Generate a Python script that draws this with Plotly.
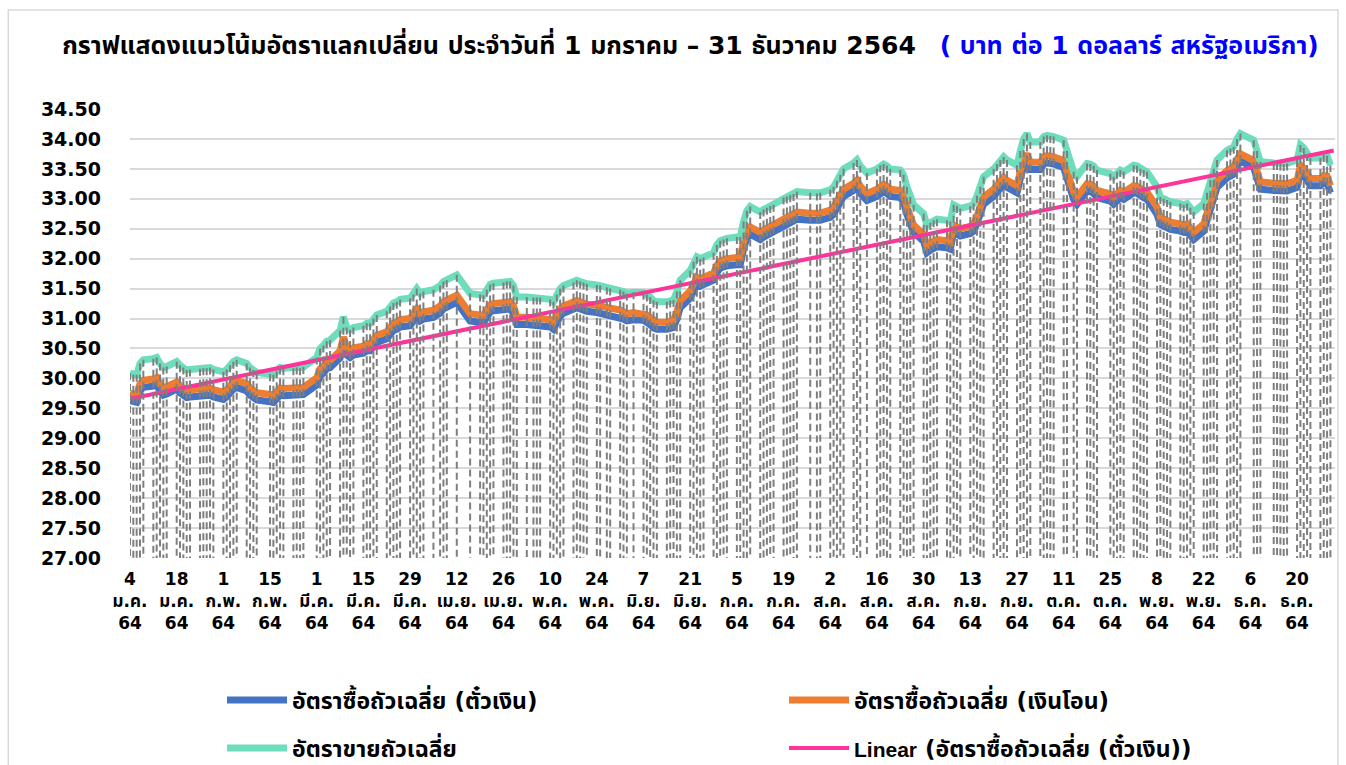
import numpy as np
import pandas as pd
import plotly.graph_objects as go

# ---- data: weekday rows (Mon..Fri), None = bank holiday ----
SELL = [
    30.09, 30.06, 30.06, 30.25, 30.31,
    30.33, 30.35, 30.25, 30.18, 30.20,
    30.28, 30.22, 30.18, 30.14, 30.15,
    30.16, 30.17, 30.17, 30.18, 30.15,
    30.11, 30.15, 30.22, 30.28, 30.31,
    30.25, 30.18, 30.14, 30.10, None,
    30.07, 30.06, 30.12, 30.18, 30.17,
    30.17, 30.18, 30.17, 30.19, None,
    30.35, 30.50, 30.55, 30.62, 30.64,
    30.80, 31.03, 30.85, 30.81, 30.85,
    30.88, 30.92, 30.92, 31.00, 31.06,
    31.12, 31.20, 31.26, 31.28, 31.32,
    31.34, 31.40, 31.50, 31.42, 31.45,
    31.48, None, 31.55, 31.62, 31.64,
    31.73, None, None, None, 31.42,
    31.40, 31.39, 31.48, 31.57, 31.59,
    31.60, 31.62, 31.62, 31.55, 31.36,
    31.36, None, 31.35, 31.35, 31.35,
    31.32, 31.28, 31.40, 31.50, 31.55,
    31.60, 31.64, 31.62, 31.60, 31.58,
    31.56, 31.55, None, 31.52, 31.50,
    31.48, 31.45, 31.42, None, 31.44,
    31.43, 31.40, 31.36, 31.30, 31.28,
    31.28, 31.30, 31.31, 31.45, 31.64,
    31.80, 31.95, 32.03, 32.00, 32.02,
    32.10, 32.23, 32.30, 32.32, 32.34,
    32.36, 32.36, 32.62, 32.80, 32.87,
    32.78, 32.82, 32.85, 32.88, 32.90,
    33.02, 33.04, 33.06, 33.08, 33.12,
    None, 33.10, None, 33.09, 33.10,
    33.15, 33.20, 33.30, 33.40, 33.50,
    33.60, 33.65, 33.55, None, 33.43,
    33.50, 33.56, 33.58, 33.55, 33.50,
    33.48, 33.40, 33.20, 33.03, 32.90,
    32.75, 32.56, 32.60, 32.64, 32.66,
    32.64, 32.62, 32.90, 32.88, 32.84,
    32.88, 32.92, 33.05, 33.20, 33.37,
    33.50, 33.58, 33.65, 33.70, 33.65,
    33.56, 33.80, 34.00, 34.09, 33.95,
    33.95, 34.04, 34.06, 34.05, 34.04,
    33.98, 33.80, None, 33.45, 33.37,
    33.59, 33.58, 33.55, 33.48, None,
    33.42, 33.37, 33.45, 33.48, 33.45,
    33.56, 33.55, 33.50, 33.48, 33.45,
    33.20, 33.03, 33.00, 32.98, 32.95,
    32.92, 32.90, 32.92, 32.85, 32.78,
    32.92, 33.10, 33.31, 33.50, 33.65,
    33.81, 33.84, 33.87, 34.00, 34.09,
    None, 33.98, 33.80, 33.62, None,
    33.60, 33.60, 33.59, 33.58, 33.59,
    33.65, 33.90, 33.85, 33.75, 33.68,
    33.68, 33.73, 33.72, 33.56, None,
]

BUY_TT = [
    29.75, 29.72, 29.72, 29.91, 29.97,
    29.99, 30.01, 29.91, 29.84, 29.86,
    29.94, 29.88, 29.84, 29.80, 29.81,
    29.82, 29.83, 29.83, 29.84, 29.81,
    29.77, 29.81, 29.88, 29.94, 29.97,
    29.91, 29.84, 29.80, 29.76, None,
    29.73, 29.72, 29.78, 29.84, 29.83,
    29.83, 29.84, 29.83, 29.85, None,
    30.01, 30.16, 30.21, 30.28, 30.30,
    30.46, 30.69, 30.51, 30.47, 30.51,
    30.54, 30.58, 30.58, 30.66, 30.72,
    30.78, 30.86, 30.92, 30.94, 30.98,
    31.00, 31.06, 31.16, 31.08, 31.11,
    31.14, None, 31.21, 31.28, 31.30,
    31.39, None, None, None, 31.08,
    31.06, 31.05, 31.14, 31.23, 31.25,
    31.26, 31.28, 31.28, 31.21, 31.02,
    31.02, None, 31.01, 31.01, 31.01,
    30.98, 30.94, 31.06, 31.16, 31.21,
    31.26, 31.30, 31.28, 31.26, 31.24,
    31.22, 31.21, None, 31.18, 31.16,
    31.14, 31.11, 31.08, None, 31.10,
    31.09, 31.06, 31.02, 30.96, 30.94,
    30.94, 30.96, 30.97, 31.11, 31.30,
    31.46, 31.61, 31.69, 31.66, 31.68,
    31.76, 31.89, 31.96, 31.98, 32.00,
    32.02, 32.02, 32.28, 32.46, 32.53,
    32.44, 32.48, 32.51, 32.54, 32.56,
    32.68, 32.70, 32.72, 32.74, 32.78,
    None, 32.76, None, 32.75, 32.76,
    32.81, 32.86, 32.96, 33.06, 33.16,
    33.26, 33.31, 33.21, None, 33.09,
    33.16, 33.22, 33.24, 33.21, 33.16,
    33.14, 33.06, 32.86, 32.69, 32.56,
    32.41, 32.22, 32.26, 32.30, 32.32,
    32.30, 32.28, 32.56, 32.54, 32.50,
    32.54, 32.58, 32.71, 32.86, 33.03,
    33.16, 33.24, 33.31, 33.36, 33.31,
    33.22, 33.46, 33.66, 33.75, 33.61,
    33.61, 33.70, 33.72, 33.71, 33.70,
    33.64, 33.46, None, 33.11, 33.03,
    33.25, 33.24, 33.21, 33.14, None,
    33.08, 33.03, 33.11, 33.14, 33.11,
    33.22, 33.21, 33.16, 33.14, 33.11,
    32.86, 32.69, 32.66, 32.64, 32.61,
    32.58, 32.56, 32.58, 32.51, 32.44,
    32.58, 32.76, 32.97, 33.16, 33.31,
    33.47, 33.50, 33.53, 33.66, 33.75,
    None, 33.64, 33.46, 33.28, None,
    33.26, 33.26, 33.25, 33.24, 33.25,
    33.31, 33.56, 33.51, 33.41, 33.34,
    33.34, 33.39, 33.38, 33.22, None,
]

BUY_SIGHT = [
    29.63, 29.60, 29.60, 29.79, 29.85,
    29.87, 29.89, 29.79, 29.72, 29.74,
    29.82, 29.76, 29.72, 29.68, 29.69,
    29.70, 29.71, 29.71, 29.72, 29.69,
    29.65, 29.69, 29.76, 29.82, 29.85,
    29.79, 29.72, 29.68, 29.64, None,
    29.61, 29.60, 29.66, 29.72, 29.71,
    29.71, 29.72, 29.71, 29.73, None,
    29.89, 30.04, 30.09, 30.16, 30.18,
    30.34, 30.57, 30.39, 30.35, 30.39,
    30.42, 30.46, 30.46, 30.54, 30.60,
    30.66, 30.74, 30.80, 30.82, 30.86,
    30.88, 30.94, 31.04, 30.96, 30.99,
    31.02, None, 31.09, 31.16, 31.18,
    31.27, None, None, None, 30.96,
    30.94, 30.93, 31.02, 31.11, 31.13,
    31.14, 31.16, 31.16, 31.09, 30.90,
    30.90, None, 30.89, 30.89, 30.89,
    30.86, 30.82, 30.94, 31.04, 31.09,
    31.14, 31.18, 31.16, 31.14, 31.12,
    31.10, 31.09, None, 31.06, 31.04,
    31.02, 30.99, 30.96, None, 30.98,
    30.97, 30.94, 30.90, 30.84, 30.82,
    30.82, 30.84, 30.85, 30.99, 31.18,
    31.34, 31.49, 31.57, 31.54, 31.56,
    31.64, 31.77, 31.84, 31.86, 31.88,
    31.90, 31.90, 32.16, 32.34, 32.41,
    32.32, 32.36, 32.39, 32.42, 32.44,
    32.56, 32.58, 32.60, 32.62, 32.66,
    None, 32.64, None, 32.63, 32.64,
    32.69, 32.74, 32.84, 32.94, 33.04,
    33.14, 33.19, 33.09, None, 32.97,
    33.04, 33.10, 33.12, 33.09, 33.04,
    33.02, 32.94, 32.74, 32.57, 32.44,
    32.29, 32.10, 32.14, 32.18, 32.20,
    32.18, 32.16, 32.44, 32.42, 32.38,
    32.42, 32.46, 32.59, 32.74, 32.91,
    33.04, 33.12, 33.19, 33.24, 33.19,
    33.10, 33.34, 33.54, 33.63, 33.49,
    33.49, 33.58, 33.60, 33.59, 33.58,
    33.52, 33.34, None, 32.99, 32.91,
    33.13, 33.12, 33.09, 33.02, None,
    32.96, 32.91, 32.99, 33.02, 32.99,
    33.10, 33.09, 33.04, 33.02, 32.99,
    32.74, 32.57, 32.54, 32.52, 32.49,
    32.46, 32.44, 32.46, 32.39, 32.32,
    32.46, 32.64, 32.85, 33.04, 33.19,
    33.35, 33.38, 33.41, 33.54, 33.63,
    None, 33.52, 33.34, 33.16, None,
    33.14, 33.14, 33.13, 33.12, 33.13,
    33.19, 33.44, 33.39, 33.29, 33.22,
    33.22, 33.27, 33.26, 33.10, None,
]

TICK_DAY = [4, 18, 1, 15, 1, 15, 29, 12, 26, 10, 24, 7, 21, 5, 19, 2, 16, 30, 13, 27, 11, 25, 8, 22, 6, 20]
TICK_MONTH_NUM = [1, 1, 2, 2, 3, 3, 3, 4, 4, 5, 5, 6, 6, 7, 7, 8, 8, 8, 9, 9, 10, 10, 11, 11, 12, 12]
TICK_MONTH = ["ม.ค.", "ม.ค.", "ก.พ.", "ก.พ.", "มี.ค.", "มี.ค.", "มี.ค.", "เม.ย.", "เม.ย.", "พ.ค.", "พ.ค.",
              "มิ.ย.", "มิ.ย.", "ก.ค.", "ก.ค.", "ส.ค.", "ส.ค.", "ส.ค.", "ก.ย.", "ก.ย.", "ต.ค.", "ต.ค.",
              "พ.ย.", "พ.ย.", "ธ.ค.", "ธ.ค."]
YEAR_LABEL = "64"

NAMES = ["อัตราซื้อถัวเฉลี่ย (ตั๋วเงิน)", "อัตราซื้อถัวเฉลี่ย (เงินโอน)", "อัตราขายถัวเฉลี่ย",
         "Linear (อัตราซื้อถัวเฉลี่ย (ตั๋วเงิน))"]

dates = pd.bdate_range("2021-01-04", "2021-12-31")
assert len(dates) == len(SELL) == len(BUY_TT) == len(BUY_SIGHT)

FONT = "'DejaVu Sans', Tahoma, 'Noto Sans Thai', sans-serif"
YMIN, YMAX = 27.0, 34.5

fig = go.Figure()

fig.add_trace(go.Scatter(x=dates, y=BUY_SIGHT, mode="lines", name=f"<b>{NAMES[0]}</b>", connectgaps=True,
                         line=dict(color="#4472C4", width=7), legend="legend"))
fig.add_trace(go.Scatter(x=dates, y=BUY_TT, mode="lines", name=f"<b>{NAMES[1]}</b>", connectgaps=True,
                         line=dict(color="#ED7D31", width=7), legend="legend2"))
fig.add_trace(go.Scatter(x=dates, y=SELL, mode="lines", name=f"<b>{NAMES[2]}</b>", connectgaps=True,
                         line=dict(color="#6EDDBC", width=7), legend="legend3"))

# linear trend of buying (sight bill)
days = np.array([(d - dates[0]).days for d in dates], dtype=float)
bs = np.array([np.nan if v is None else v for v in BUY_SIGHT], dtype=float)
ok = ~np.isnan(bs)
slope, intercept = np.polyfit(days[ok], bs[ok], 1)
tx = [dates[0], dates[-1]]
ty = [intercept, intercept + slope * (dates[-1] - dates[0]).days]
lin_name = ("<b><span style=\"font-family:'Liberation Sans';font-size:21px\">Linear</span> "
            + NAMES[3][len("Linear "):] + "</b>")
fig.add_trace(go.Scatter(x=tx, y=ty, mode="lines", name=lin_name,
                         line=dict(color="#FF3399", width=4), legend="legend4"))

# drop lines from the highest series down to the axis (drawn top -> bottom)
dx, dy = [], []
for d, v in zip(dates, SELL):
    if v is None:
        continue
    dx += [d, d, None]
    dy += [v, YMIN, None]
fig.add_trace(go.Scatter(x=dx, y=dy, mode="lines", showlegend=False, hoverinfo="skip",
                         line=dict(color="#7F7F7F", width=2, dash="7px,4px")))

tickvals = [pd.Timestamp(2021, m, d) for m, d in zip(TICK_MONTH_NUM, TICK_DAY)]
ticktext = [f"<b>{d}<br>{m}<br>{YEAR_LABEL}</b>" for d, m in zip(TICK_DAY, TICK_MONTH)]

yt = np.arange(YMIN, YMAX + 0.001, 0.5)

LEG_FONT = dict(size=23, family=FONT, color="#000000")


def leg(x_px, y_px):
    return dict(orientation="h", xref="container", yref="container",
                x=x_px / 1346, y=1 - y_px / 765, xanchor="left", yanchor="middle",
                itemwidth=60, font=LEG_FONT, bgcolor="rgba(0,0,0,0)")


fig.update_layout(
    width=1346, height=765,
    margin=dict(l=130, r=11, t=109, b=207),
    paper_bgcolor="white", plot_bgcolor="white",
    font=dict(family=FONT, color="#000000"),
    title=dict(
        text="<b>กราฟแสดงแนวโน้มอัตราแลกเปลี่ยน ประจำวันที่ 1 มกราคม – 31 ธันวาคม 2564</b>"
             "&nbsp;&nbsp;&nbsp;<span style='color:#0000FF'><b>( บาท ต่อ 1 ดอลลาร์ สหรัฐอเมริกา)</b></span>",
        x=0.513, xanchor="center", y=1 - 45 / 765, yanchor="middle",
        font=dict(size=25, family=FONT, color="#000000")),
    xaxis=dict(type="date", range=["2021-01-04", "2021-12-31 09:00"],
               tickvals=tickvals, ticktext=ticktext, tickangle=0,
               showgrid=False, zeroline=False, showline=False, ticks="",
               ticklabelstandoff=9,
               tickfont=dict(size=17, family=FONT, color="#000000")),
    yaxis=dict(range=[YMIN, YMAX], tickvals=yt, ticktext=[f"<b>{v:.2f}</b>" for v in yt],
               showgrid=True, gridcolor="#D9D9D9", gridwidth=2, zeroline=False,
               showline=False, ticks="", ticklabelstandoff=28,
               tickfont=dict(size=19, family=FONT, color="#000000")),
    legend=leg(222, 700),
    legend2=leg(784, 700),
    legend3=leg(222, 748),
    legend4=leg(784, 748),
    showlegend=True,
)

# outer chart border
fig.add_shape(type="rect", xref="paper", yref="paper", x0=-0.101, x1=1.0025, y0=-0.48, y1=1.2205,
              line=dict(color="#D9D9D9", width=1.5), fillcolor="rgba(0,0,0,0)", layer="below")

fig.write_html("out.html", config={"displayModeBar": False},
               post_script="document.body.style.margin='0px';")
